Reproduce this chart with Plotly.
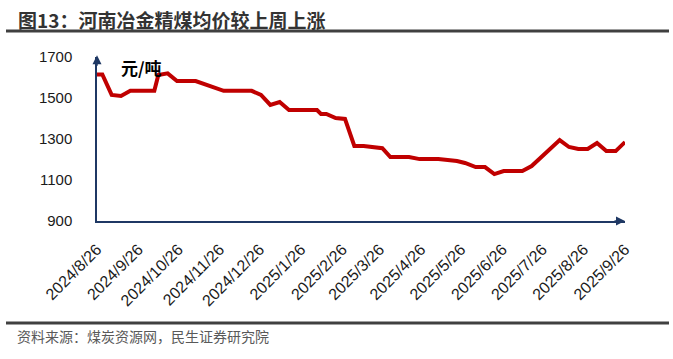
import plotly.graph_objects as go

dates = ["2024-08-26", "2024-08-30", "2024-09-06", "2024-09-13", "2024-09-20", "2024-10-08",
         "2024-10-11", "2024-10-18", "2024-10-25", "2024-11-08", "2024-11-29", "2024-12-20",
         "2024-12-27", "2025-01-03", "2025-01-10", "2025-01-17", "2025-02-07", "2025-02-10",
         "2025-02-14", "2025-02-21", "2025-02-28", "2025-03-07", "2025-03-14", "2025-03-28",
         "2025-04-03", "2025-04-17", "2025-04-25", "2025-05-09", "2025-05-23", "2025-05-29",
         "2025-06-06", "2025-06-13", "2025-06-20", "2025-06-27", "2025-07-11", "2025-07-18",
         "2025-08-08", "2025-08-15", "2025-08-22", "2025-08-29", "2025-09-05", "2025-09-12",
         "2025-09-19", "2025-09-26"]
prices = [1615, 1615, 1515, 1510, 1535, 1535,
          1612, 1620, 1583, 1583, 1535, 1535,
          1515, 1466, 1480, 1441, 1441, 1422,
          1422, 1402, 1398, 1266, 1266, 1255,
          1212, 1212, 1202, 1202, 1193, 1183,
          1163, 1163, 1129, 1144, 1144, 1168,
          1295, 1261, 1251, 1251, 1280, 1241,
          1241, 1285]

tick_dates = ["2024-08-26", "2024-09-26", "2024-10-26", "2024-11-26", "2024-12-26", "2025-01-26",
              "2025-02-26", "2025-03-26", "2025-04-26", "2025-05-26", "2025-06-26", "2025-07-26",
              "2025-08-26", "2025-09-26"]
tick_labels = ["2024/8/26", "2024/9/26", "2024/10/26", "2024/11/26", "2024/12/26", "2025/1/26",
               "2025/2/26", "2025/3/26", "2025/4/26", "2025/5/26", "2025/6/26", "2025/7/26",
               "2025/8/26", "2025/9/26"]
y_ticks = [900, 1100, 1300, 1500, 1700]

title_text = "图13：河南冶金精煤均价较上周上涨"
source_text = "资料来源：煤炭资源网，民生证券研究院"
unit_text = "元/吨"

W, H = 673, 359
L, R, T, B = 97, 48, 57, 138
pw, ph = W - L - R, H - T - B

def px(x):
    return (x - L) / pw

def py(y):
    return (H - B - y) / ph

axis_color = "#1F3864"
num_font = "Liberation Sans, Arial, sans-serif"
cjk_font = "Noto Sans CJK SC, sans-serif"

fig = go.Figure()
fig.add_trace(go.Scatter(x=dates, y=prices, mode="lines",
                         line=dict(color="#C00000", width=4), showlegend=False))

fig.update_layout(
    width=W, height=H,
    margin=dict(l=L, r=R, t=T, b=B, autoexpand=False),
    paper_bgcolor="white", plot_bgcolor="white",
    xaxis=dict(type="date", range=["2024-08-26", "2025-09-26"],
               tickmode="array", tickvals=tick_dates, ticktext=tick_labels,
               tickangle=-45, showgrid=False, zeroline=False, automargin=False,
               showline=True, linecolor=axis_color, linewidth=1.5,
               ticks="", ticklabelstandoff=11,
               tickfont=dict(family=num_font, size=16, color="#1a1a1a")),
    yaxis=dict(range=[900, 1700], tickmode="array", tickvals=y_ticks,
               showgrid=False, zeroline=False, automargin=False,
               showline=True, linecolor=axis_color, linewidth=1.5,
               ticks="", ticklabelstandoff=20,
               tickfont=dict(family=num_font, size=15, color="#1a1a1a")),
    font=dict(family=cjk_font),
)

# arrowheads on axes
fig.add_annotation(xref="paper", yref="paper", x=1.0, y=0, ax=-12, ay=0,
                   showarrow=True, arrowhead=2, arrowsize=1.2, arrowwidth=1.5,
                   arrowcolor=axis_color, text="")
fig.add_annotation(xref="paper", yref="paper", x=0, y=1.01, ax=0, ay=12,
                   showarrow=True, arrowhead=2, arrowsize=1.2, arrowwidth=1.5,
                   arrowcolor=axis_color, text="")

fig.add_annotation(xref="paper", yref="paper", x=px(119), y=py(67),
                   xanchor="left", yanchor="middle", showarrow=False,
                   text="<b>" + unit_text + "</b>",
                   font=dict(family=cjk_font, size=17, color="#000000"))

fig.add_annotation(xref="paper", yref="paper", x=px(16), y=py(19),
                   xanchor="left", yanchor="middle", showarrow=False,
                   text="<b>" + title_text + "</b>",
                   font=dict(family=cjk_font, size=19, color="#333333"))

fig.add_annotation(xref="paper", yref="paper", x=px(15), y=py(336),
                   xanchor="left", yanchor="middle", showarrow=False,
                   text=source_text,
                   font=dict(family=cjk_font, size=14, color="#595959"))

fig.add_shape(type="line", xref="paper", yref="paper",
              x0=px(6), x1=px(669), y0=py(31), y1=py(31),
              line=dict(color="#404040", width=3))
fig.add_shape(type="line", xref="paper", yref="paper",
              x0=px(6), x1=px(669), y0=py(323), y1=py(323),
              line=dict(color="#404040", width=3))

fig.write_html("out.html", config={"displayModeBar": False},
               post_script="document.body.style.margin='0';document.body.style.overflow='hidden';")
